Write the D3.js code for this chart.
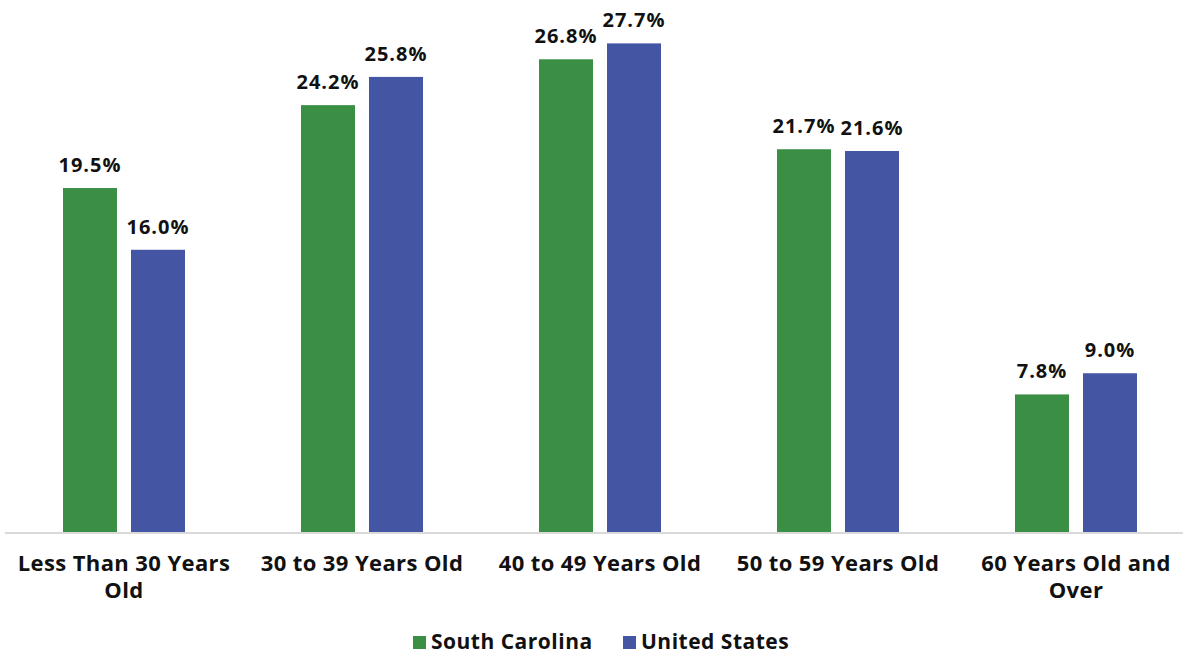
<!DOCTYPE html>
<html>
<head>
<meta charset="utf-8">
<script src="https://cdn.jsdelivr.net/npm/d3@7"></script>
<style>
  html, body { margin: 0; padding: 0; background: #fff; }
  svg { display: block; font-family: "Open Sans", Lato, sans-serif; }
</style>
</head>
<body>
<svg id="chart" width="1183" height="652"></svg>
<script>
// Age distribution: South Carolina vs United States (percent)
const categories = [
  ["Less Than 30 Years", "Old"],
  ["30 to 39 Years Old"],
  ["40 to 49 Years Old"],
  ["50 to 59 Years Old"],
  ["60 Years Old and", "Over"]
];
const seriesNames = ["South Carolina", "United States"];
const southCarolina = [19.5, 24.2, 26.8, 21.7, 7.8];
const unitedStates = [16.0, 25.8, 27.7, 21.6, 9.0];
const colors = ["#3a8f44", "#4455a4"];

const svg = d3.select("#chart");
const baseY = 532;

const x0 = d3.scaleBand()
  .domain(d3.range(categories.length))
  .range([5, 1195])
  .paddingInner(116 / 238)
  .paddingOuter(58 / 238);

const bw = 54, gap = 14;
const x1 = d3.scaleOrdinal().domain([0, 1]).range([0, bw + gap]);

const y = d3.scaleLinear().domain([0, 30.16]).range([baseY, 0]);

const data = categories.map((c, i) => ({
  i,
  vals: [southCarolina[i], unitedStates[i]]
}));

const groups = svg.selectAll("g.grp").data(data).enter().append("g")
  .attr("class", "grp")
  .attr("transform", d => `translate(${x0(d.i)},0)`);

groups.selectAll("rect").data(d => d.vals.map((v, s) => ({ v, s })))
  .enter().append("rect")
  .attr("x", d => x1(d.s))
  .attr("width", bw)
  .attr("y", d => y(d.v))
  .attr("height", d => baseY - y(d.v))
  .attr("fill", d => colors[d.s]);

groups.selectAll("text.val").data(d => d.vals.map((v, s) => ({ v, s })))
  .enter().append("text")
  .attr("class", "val")
  .attr("x", d => x1(d.s) + bw / 2)
  .attr("y", d => y(d.v) - 16)
  .attr("text-anchor", "middle")
  .attr("font-size", 20)
  .attr("font-weight", 700)
  .attr("letter-spacing", 1)
  .attr("fill", "#111")
  .text(d => d.v.toFixed(1) + "%");

// baseline
svg.append("line")
  .attr("x1", 5).attr("x2", 1183)
  .attr("y1", baseY + 1).attr("y2", baseY + 1)
  .attr("stroke", "#d9d9d9").attr("stroke-width", 2);

// category labels
const cx = i => x0(i) + (2 * bw + gap) / 2;
const labels = svg.selectAll("text.cat").data(categories).enter().append("text")
  .attr("class", "cat")
  .attr("text-anchor", "middle")
  .attr("font-size", 22)
  .attr("font-weight", 700)
  .attr("letter-spacing", 0.4)
  .attr("fill", "#111");
labels.each(function (lines, i) {
  const t = d3.select(this);
  lines.forEach((ln, k) => {
    t.append("tspan").attr("x", cx(i)).attr("y", 571 + k * 27).text(ln);
  });
});

// legend
const legendX = [413, 623];
const leg = svg.selectAll("g.leg").data(seriesNames).enter().append("g")
  .attr("class", "leg")
  .attr("transform", (d, i) => `translate(${legendX[i]},636)`);
leg.append("rect").attr("width", 13).attr("height", 13).attr("fill", (d, i) => colors[i]);
leg.append("text")
  .attr("x", 18).attr("y", 13)
  .attr("font-size", 21).attr("font-weight", 700)
  .attr("letter-spacing", 0.5).attr("fill", "#111")
  .text(d => d);
</script>
</body>
</html>
